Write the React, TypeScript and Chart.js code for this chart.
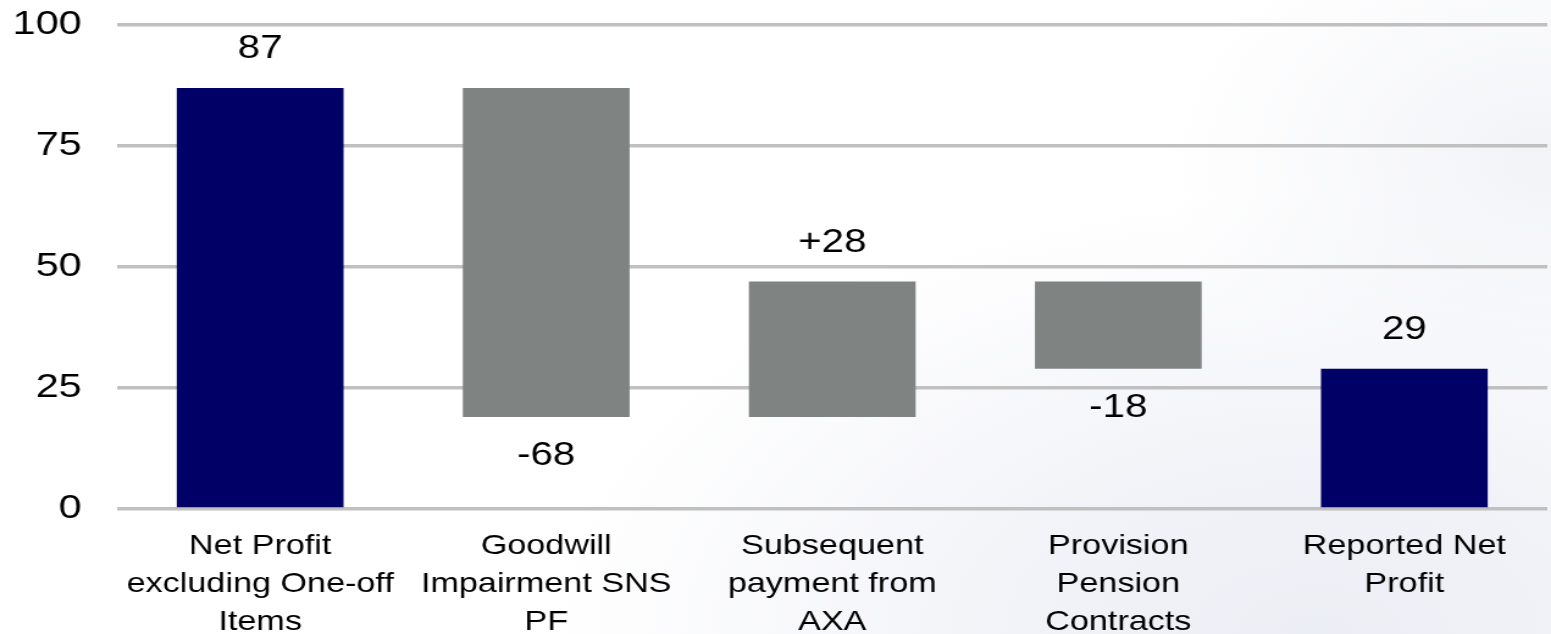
import React, { useEffect, useRef } from "react";
import { Chart, registerables } from "chart.js";

Chart.register(...registerables);

// ---- data ----
const categories: string[][] = [
  ["Net Profit", "excluding One-off", "Items"],
  ["Goodwill", "Impairment SNS", "PF"],
  ["Subsequent", "payment from", "AXA"],
  ["Provision", "Pension", "Contracts"],
  ["Reported Net", "Profit"],
];
const values: number[] = [87, -68, 28, -18, 29];
const isTotal: boolean[] = [true, false, false, false, true];
const yTicks: number[] = [0, 25, 50, 75, 100];

// ---- styling ----
const NAVY = "#000066";
const GREY = "#7F8483";
const FONT = "'Liberation Sans', Arial, Helvetica, sans-serif";
const DISPLAY_W = 1551;
const DISPLAY_H = 634;
const SX = 1.22; // horizontal stretch of the original picture
const CANVAS_W = Math.round(DISPLAY_W / SX);

function buildRanges(): [number, number][] {
  const out: [number, number][] = [];
  let running = 0;
  values.forEach((v, i) => {
    if (isTotal[i]) {
      out.push([0, v]);
      running = v;
    } else {
      const start = running;
      running = running + v;
      out.push([start, running]);
    }
  });
  return out;
}

function labelText(i: number): string {
  const v = values[i];
  if (isTotal[i]) return String(v);
  return v > 0 ? "+" + v : String(v);
}

const dataLabelPlugin = {
  id: "waterfallLabels",
  afterDatasetsDraw(chart: any) {
    const ctx = chart.ctx;
    const meta = chart.getDatasetMeta(0);
    ctx.save();
    ctx.font = `33px ${FONT}`;
    ctx.fillStyle = "#000000";
    ctx.textAlign = "center";
    ctx.textBaseline = "alphabetic";
    meta.data.forEach((bar: any, i: number) => {
      const top = Math.min(bar.y, bar.base);
      const bottom = Math.max(bar.y, bar.base);
      const txt = labelText(i);
      if (values[i] >= 0) {
        ctx.fillText(txt, bar.x, top - 30);
      } else {
        ctx.fillText(txt, bar.x, bottom + 48);
      }
    });
    ctx.restore();
  },
};

export default function App() {
  const canvasRef = useRef<HTMLCanvasElement | null>(null);

  useEffect(() => {
    if (!canvasRef.current) return;
    const ranges = buildRanges();
    const chart = new Chart(canvasRef.current, {
      type: "bar",
      data: {
        labels: categories,
        datasets: [
          {
            data: ranges as any,
            backgroundColor: isTotal.map((t) => (t ? NAVY : GREY)),
            borderWidth: 0,
            categoryPercentage: 1,
            barPercentage: 0.583,
          },
        ],
      },
      options: {
        animation: false,
        responsive: false,
        maintainAspectRatio: false,
        devicePixelRatio: 1,
        layout: { padding: { top: 25, right: 3, left: 0, bottom: 0 } },
        plugins: {
          legend: { display: false },
          tooltip: { enabled: false },
          title: { display: false },
        },
        scales: {
          x: {
            grid: { display: false, drawTicks: false },
            border: { display: false },
            ticks: {
              color: "#000000",
              padding: 18,
              maxRotation: 0,
              autoSkip: false,
              font: { family: FONT, size: 28, lineHeight: 1.36 },
            },
            afterFit: (scale: any) => {
              scale.height = 125;
            },
          },
          y: {
            min: 0,
            max: 100,
            afterBuildTicks: (scale: any) => {
              scale.ticks = yTicks.map((v) => ({ value: v }));
            },
            grid: {
              color: "#C0C0C0",
              lineWidth: 3.5,
              drawTicks: false,
            },
            border: { display: false },
            ticks: {
              color: "#000000",
              padding: 29,
              font: { family: FONT, size: 34 },
            },
            afterFit: (scale: any) => {
              scale.width = 96;
              scale.paddingTop = 0;
              scale.paddingBottom = 0;
            },
          },
        },
      },
      plugins: [dataLabelPlugin],
    });
    return () => chart.destroy();
  }, []);

  return (
    <div
      style={{
        position: "fixed",
        left: 0,
        top: 0,
        width: DISPLAY_W,
        height: DISPLAY_H,
        overflow: "hidden",
        background:
          "radial-gradient(ellipse 50% 70% at 85% 100%, #eceef5 0%, #f2f3f8 40%, rgba(255,255,255,0) 100%), radial-gradient(ellipse 25% 40% at 100% 25%, #f2f3f7 0%, rgba(255,255,255,0) 100%), #ffffff",
      }}
    >
      <canvas
        ref={canvasRef}
        width={CANVAS_W}
        height={DISPLAY_H}
        style={{ width: DISPLAY_W + "px", height: DISPLAY_H + "px", display: "block" }}
      />
    </div>
  );
}
